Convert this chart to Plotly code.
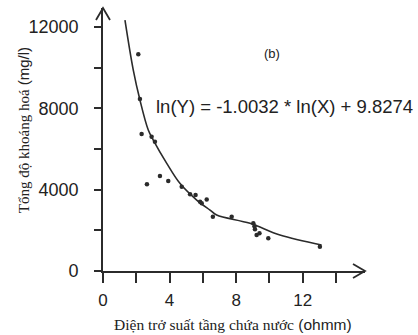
import plotly.graph_objects as go

# measured data points (resistivity ohmm, mineralisation mg/l)
pts_x = [2.12, 2.22, 2.32, 2.92, 3.12, 2.64, 3.42, 3.92, 4.73, 5.23, 5.56,
         5.83, 5.93, 6.23, 6.60, 7.73, 9.03, 9.10, 9.13, 9.23, 9.40, 9.93, 13.03]
pts_y = [10660, 8460, 6739, 6607, 6361, 4270, 4673, 4430, 4147, 3780, 3738,
         3410, 3330, 3520, 2671, 2671, 2346, 2200, 2060, 1771, 1854, 1608, 1197]

# fitted curve
fit_x = [1.32, 1.82, 2.22, 2.72, 3.02, 3.83, 4.62, 5.63, 6.43, 6.83, 8.83, 10.63, 13.13]
fit_y = [12346, 9887, 8411, 6936, 6444, 5298, 4314, 3492, 3000, 2755, 2346, 1771, 1279]

x_ticks = [0, 4, 8, 12]
y_ticks = [0, 4000, 8000, 12000]

equation = "ln(Y) = -1.0032 * ln(X) + 9.8274"
panel = "(b)"

INK = "#2b2b2b"
SANS = "Liberation Sans, Arial, sans-serif"
SERIF = "Liberation Serif, Times New Roman, serif"

fig = go.Figure()
fig.add_trace(go.Scatter(x=fit_x, y=fit_y, mode="lines",
                         line=dict(color=INK, width=1.6, shape="spline"),
                         hoverinfo="skip", showlegend=False))
fig.add_trace(go.Scatter(x=pts_x, y=pts_y, mode="markers",
                         marker=dict(color=INK, size=4.5),
                         showlegend=False))

fig.update_xaxes(range=[0, 15.74], tickmode="array", tickvals=x_ticks,
                 ticktext=[str(v) for v in x_ticks],
                 showgrid=False, zeroline=False, showline=True,
                 linecolor=INK, linewidth=1.6, automargin=False,
                 ticks="outside", ticklen=10, tickwidth=1.6, tickcolor=INK,
                 minor=dict(tickvals=[2, 6, 10, 14], ticks="outside",
                            ticklen=10, tickwidth=1.6, tickcolor=INK),
                 tickfont=dict(family=SANS, size=17, color="#222"),
                 ticklabelstandoff=3)
fig.update_yaxes(range=[0, 12940], tickmode="array", tickvals=y_ticks,
                 ticktext=[str(v) for v in y_ticks],
                 showgrid=False, zeroline=False, showline=True,
                 linecolor=INK, linewidth=1.6, automargin=False,
                 ticks="outside", ticklen=7, tickwidth=1.6, tickcolor=INK,
                 minor=dict(tickvals=[2000, 6000, 10000], ticks="outside",
                            ticklen=7, tickwidth=1.6, tickcolor=INK),
                 tickfont=dict(family=SANS, size=18, color="#222"),
                 ticklabelstandoff=12)

# arrow heads at the ends of the axes
fig.add_shape(type="path", xref="paper", yref="paper",
              xsizemode="pixel", ysizemode="pixel", xanchor=1, yanchor=0,
              path="M -12,7 L 0,0 L -12,-7", line=dict(color=INK, width=1.8))
fig.add_shape(type="path", xref="paper", yref="paper",
              xsizemode="pixel", ysizemode="pixel", xanchor=0, yanchor=1,
              path="M -7,-12 L 0,0 L 7,-12", line=dict(color=INK, width=1.8))

fig.add_annotation(xref="paper", yref="paper", x=0.645, y=0.865, text=panel,
                   showarrow=False, font=dict(family=SANS, size=13, color="#222"))
fig.add_annotation(xref="paper", yref="paper", x=0.195, y=0.672, xanchor="left",
                   text=equation, showarrow=False,
                   font=dict(family=SANS, size=18.5, color="#222"))

fig.add_annotation(xref="paper", yref="paper", x=0.496, y=-0.205, yanchor="middle",
                   text=("<span style='font-family:Liberation Serif'>Điện trở suất tầng chứa nước</span>"
                         " (ohmm)"),
                   showarrow=False, font=dict(family=SANS, size=15.5, color="#222"))
fig.add_annotation(xref="paper", yref="paper", x=-0.345, y=0.536, textangle=-90,
                   text=("<span style='font-family:Liberation Serif'>Tổng độ khoáng hoá</span>"
                         " (mg/l)"),
                   showarrow=False, font=dict(family=SANS, size=15, color="#222"))

fig.update_layout(width=418, height=335,
                  margin=dict(l=103, r=53, t=8, b=64),
                  paper_bgcolor="white", plot_bgcolor="white")

fig.write_html("out.html", config={"displayModeBar": False},
               post_script="document.body.style.margin='0';")
